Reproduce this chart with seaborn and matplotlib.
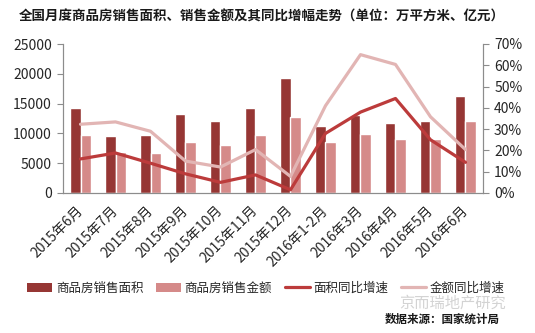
import numpy as np
import pandas as pd
import matplotlib
matplotlib.use("Agg")
import matplotlib.pyplot as plt
from matplotlib.patches import Patch
from matplotlib.lines import Line2D
import seaborn as sns

categories = ["2015年6月", "2015年7月", "2015年8月", "2015年9月", "2015年10月", "2015年11月",
              "2015年12月", "2016年1-2月", "2016年3月", "2016年4月", "2016年5月", "2016年6月"]
area = [14300, 9600, 9800, 13300, 12000, 14300, 19300, 11300, 13100, 11800, 12000, 16300]
amount = [9700, 6900, 6750, 8600, 8100, 9700, 12750, 8600, 9950, 9100, 9100, 12000]
area_yoy = [16.0, 18.8, 14.0, 9.0, 5.0, 8.5, 1.5, 28.0, 38.0, 44.4, 25.0, 14.4]
amount_yoy = [32.3, 33.4, 29.0, 15.0, 12.2, 20.4, 7.8, 41.0, 65.0, 60.4, 35.8, 20.4]
series_names = ["商品房销售面积", "商品房销售金额", "面积同比增速", "金额同比增速"]
title = "全国月度商品房销售面积、销售金额及其同比增幅走势（单位：万平方米、亿元）"
source = "数据来源：国家统计局"
watermark = "京而瑞地产研究"

c_dark_bar = "#963634"
c_light_bar = "#D58A89"
c_dark_line = "#BC3B3B"
c_light_line = "#E2B5B4"

sns.set_theme(style="white")
plt.rcParams['font.family'] = ['Noto Sans CJK SC', 'DejaVu Sans']

fig = plt.figure(figsize=(5.35, 3.33), dpi=100)
ax = fig.add_axes([63/535, 1-193/333, (483-63)/535, (193-44)/333])

bars = pd.DataFrame({
    "cat": categories * 2,
    "val": area + amount,
    "series": [series_names[0]] * len(categories) + [series_names[1]] * len(categories),
})
sns.barplot(data=bars, x="cat", y="val", hue="series", order=categories,
            hue_order=series_names[:2],
            palette={series_names[0]: c_dark_bar, series_names[1]: c_light_bar},
            width=0.58, gap=0, saturation=1, legend=False, ax=ax)

pos = np.arange(len(categories))
ax2 = ax.twinx()
lines = pd.DataFrame({
    "x": np.concatenate([pos, pos]),
    "val": area_yoy + amount_yoy,
    "series": [series_names[2]] * len(categories) + [series_names[3]] * len(categories),
})
sns.lineplot(data=lines, x="x", y="val", hue="series", hue_order=series_names[2:],
             palette={series_names[2]: c_dark_line, series_names[3]: c_light_line},
             linewidth=2.3, legend=False, ax=ax2)

for a in (ax, ax2):
    a.set_xlim(-0.5, len(categories) - 0.5)
    a.set_xlabel("")
    a.set_ylabel("")
    for s in a.spines.values():
        s.set_color("#8C8C8C")
        s.set_linewidth(0.8)
    a.spines["top"].set_visible(False)

ax.set_ylim(0, 25000)
ax.set_yticks(np.arange(0, 25001, 5000))
ax.set_yticklabels([str(v) for v in range(0, 25001, 5000)])
ax2.set_ylim(0, 70)
ax2.set_yticks(np.arange(0, 71, 10))
ax2.set_yticklabels([f"{v}%" for v in range(0, 71, 10)])

ax.set_xticks(pos)
ax.set_xticklabels(categories, rotation=45, ha="right", va="center", rotation_mode="anchor",
                   fontsize=10, color="#262626")
ax.tick_params(axis="x", which="major", length=0, pad=11)
ax.set_xticks(np.arange(-0.5, len(categories), 1), minor=True)
ax.tick_params(axis="x", which="minor", length=4, direction="out", color="#8C8C8C", width=0.8)
ax.tick_params(axis="y", length=4, direction="out", color="#8C8C8C", width=0.8,
               labelsize=10, labelcolor="#262626", pad=4, left=True)
ax2.tick_params(axis="y", length=4, direction="out", color="#8C8C8C", width=0.8,
                labelsize=10, labelcolor="#262626", pad=4, right=True)
ax2.tick_params(axis="x", bottom=False, labelbottom=False)
ax.grid(False)
ax2.grid(False)

fig.text(0.489, 1 - 17/333, title, ha="center", va="center", fontsize=9.7,
         fontweight="bold", color="#1a1a1a")

handles = [Patch(facecolor=c_dark_bar, edgecolor="none"),
           Patch(facecolor=c_light_bar, edgecolor="none"),
           Line2D([], [], color=c_dark_line, linewidth=2.3),
           Line2D([], [], color=c_light_line, linewidth=2.3)]
fig.legend(handles, series_names, loc="center", bbox_to_anchor=(0.497, 1 - 288/333),
           ncol=4, frameon=False, fontsize=9, handlelength=2.0, handletextpad=0.3,
           columnspacing=1.0)

fig.text(0.945, 1 - 303/333, watermark, ha="right", va="center", fontsize=11,
         color="#C8C8C8", alpha=0.8)
fig.text(0.935, 1 - 319/333, source, ha="right", va="center", fontsize=8.3,
         fontweight="bold", color="#1a1a1a")

fig.savefig("out.png", dpi=100)
